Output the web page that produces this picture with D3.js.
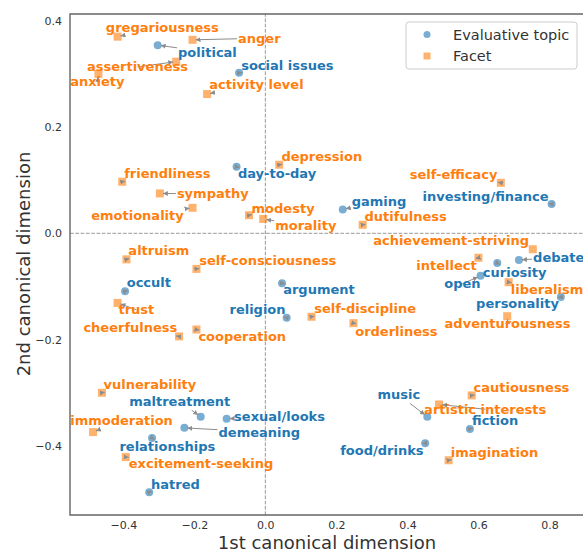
<!DOCTYPE html>
<html>
<head>
<meta charset="utf-8">
<script src="https://cdn.jsdelivr.net/npm/d3@7"></script>
<style>
  body { margin: 0; background: #fff; }
  text { font-family: "DejaVu Sans", sans-serif; }
</style>
</head>
<body>
<svg id="chart" width="583" height="554"></svg>
<script>
// Evaluative topics (blue circles)
const topicNames = ["political", "social issues", "day-to-day", "gaming", "investing/finance", "debate",
  "curiosity", "open", "personality", "argument", "religion", "occult", "maltreatment", "sexual/looks",
  "demeaning", "relationships", "hatred", "music", "fiction", "food/drinks"];
const topicX = [-0.303, -0.074, -0.081, 0.218, 0.806, 0.714, 0.653, 0.606, 0.832, 0.047, 0.060, -0.395,
  -0.182, -0.109, -0.228, -0.319, -0.327, 0.456, 0.576, 0.450];
const topicY = [0.354, 0.302, 0.125, 0.045, 0.055, -0.050, -0.056, -0.080, -0.120, -0.094, -0.159, -0.109,
  -0.345, -0.349, -0.366, -0.385, -0.487, -0.345, -0.368, -0.395];
// where the labels ended up (data units)
const topicLabelX = [-0.163, 0.062, 0.033, 0.320, 0.620, 0.826, 0.702, 0.555, 0.710, 0.151, -0.022, -0.328,
  -0.241, 0.040, -0.017, -0.276, -0.253, 0.376, 0.647, 0.328];
const topicLabelY = [0.341, 0.315, 0.112, 0.059, 0.070, -0.046, -0.073, -0.095, -0.133, -0.105, -0.144, -0.093,
  -0.317, -0.344, -0.374, -0.402, -0.472, -0.304, -0.353, -0.408];

// Facets (orange squares)
const facetNames = ["gregariousness", "anger", "assertiveness", "anxiety", "activity level", "depression",
  "friendliness", "sympathy", "emotionality", "modesty", "morality", "dutifulness", "self-efficacy",
  "achievement-striving", "intellect", "liberalism", "adventurousness", "altruism", "self-consciousness",
  "trust", "cheerfulness", "cooperation", "self-discipline", "orderliness", "vulnerability", "immoderation",
  "excitement-seeking", "cautiousness", "artistic interests", "imagination"];
const facetX = [-0.416, -0.205, -0.251, -0.470, -0.164, 0.039, -0.403, -0.297, -0.205, -0.046, -0.006, 0.274,
  0.663, 0.753, 0.600, 0.685, 0.681, -0.391, -0.194, -0.416, -0.243, -0.194, 0.130, 0.248, -0.460, -0.485,
  -0.393, 0.581, 0.489, 0.516];
const facetY = [0.370, 0.364, 0.323, 0.300, 0.262, 0.129, 0.097, 0.075, 0.048, 0.034, 0.027, 0.016,
  0.095, -0.030, -0.046, -0.092, -0.156, -0.049, -0.067, -0.131, -0.194, -0.181, -0.157, -0.169, -0.300,
  -0.374, -0.421, -0.305, -0.322, -0.427];
const facetLabelX = [-0.290, -0.017, -0.360, -0.473, -0.025, 0.159, -0.276, -0.148, -0.360, 0.050, 0.114, 0.395,
  0.530, 0.523, 0.510, 0.793, 0.682, -0.300, 0.007, -0.363, -0.380, -0.065, 0.281, 0.369, -0.325, -0.405,
  -0.181, 0.721, 0.619, 0.645];
const facetLabelY = [0.388, 0.367, 0.313, 0.285, 0.280, 0.144, 0.113, 0.074, 0.034, 0.046, 0.014, 0.031,
  0.110, -0.014, -0.060, -0.105, -0.169, -0.033, -0.052, -0.144, -0.178, -0.195, -0.142, -0.184, -0.284,
  -0.353, -0.434, -0.291, -0.331, -0.412];

const xTicks = [-0.4, -0.2, 0.0, 0.2, 0.4, 0.6, 0.8];
const yTicks = [-0.4, -0.2, 0.0, 0.2, 0.4];
const legendLabels = ["Evaluative topic", "Facet"];

const blue = "#1f77b4", orange = "#ff7f0e";

const svg = d3.select("#chart");
const x = d3.scaleLinear().domain([-0.55, 0.9]).range([70, 585]);
const y = d3.scaleLinear().domain([-0.530, 0.4126]).range([515, 14]);

// arrowhead
svg.append("defs").append("marker")
  .attr("id", "head")
  .attr("viewBox", "0 0 10 10")
  .attr("refX", 10).attr("refY", 5)
  .attr("markerWidth", 5).attr("markerHeight", 5)
  .attr("markerUnits", "userSpaceOnUse")
  .attr("orient", "auto")
  .append("path").attr("d", "M0,0L10,5L0,10Z").attr("fill", "#8c8c8c");

// reference lines
svg.append("line")
  .attr("x1", x(0)).attr("x2", x(0)).attr("y1", y.range()[0]).attr("y2", y.range()[1])
  .attr("stroke", "#999").attr("stroke-dasharray", "3.7,1.6");
svg.append("line")
  .attr("x1", x.range()[0]).attr("x2", x.range()[1]).attr("y1", y(0)).attr("y2", y(0))
  .attr("stroke", "#999").attr("stroke-dasharray", "3.7,1.6");

// axes
const fmt = d3.format(".1f");
const xAxis = svg.append("g").attr("transform", "translate(0,515)")
  .call(d3.axisBottom(x).tickValues(xTicks).tickFormat(fmt).tickSize(0).tickPadding(6));
const yAxis = svg.append("g").attr("transform", "translate(70,0)")
  .call(d3.axisLeft(y).tickValues(yTicks).tickFormat(fmt).tickSize(0).tickPadding(8));
[xAxis, yAxis].forEach(g => {
  g.select(".domain").remove();
  g.selectAll("text").attr("font-size", 11).attr("fill", "#333")
    .style("font-family", "DejaVu Sans, sans-serif");
});

// spines
const spine = svg.append("g").attr("stroke", "#666").attr("stroke-width", 1.4).attr("fill", "none");
spine.append("path").attr("d", `M${x.range()[1]},14H70V515H${x.range()[1]}`);

svg.append("text").attr("x", 327).attr("y", 549).attr("text-anchor", "middle")
  .attr("font-size", 18).attr("fill", "#333").text("1st canonical dimension");
svg.append("text").attr("transform", "translate(30,264) rotate(-90)").attr("text-anchor", "middle")
  .attr("font-size", 18).attr("fill", "#333").text("2nd canonical dimension");

// markers
const topics = topicNames.map((n, i) => ({ name: n, x: topicX[i], y: topicY[i], lx: topicLabelX[i], ly: topicLabelY[i], color: blue }));
const facets = facetNames.map((n, i) => ({ name: n, x: facetX[i], y: facetY[i], lx: facetLabelX[i], ly: facetLabelY[i], color: orange }));

svg.append("g").selectAll("circle").data(topics).enter().append("circle")
  .attr("cx", d => x(d.x)).attr("cy", d => y(d.y)).attr("r", 4)
  .attr("fill", blue).attr("fill-opacity", 0.6);
svg.append("g").selectAll("rect").data(facets).enter().append("rect")
  .attr("x", d => x(d.x) - 4).attr("y", d => y(d.y) - 4).attr("width", 8).attr("height", 8)
  .attr("fill", orange).attr("fill-opacity", 0.6);

// labels + arrows
const all = topics.concat(facets);
const arrowG = svg.append("g");
const labelG = svg.append("g");
all.forEach(d => {
  const t = labelG.append("text")
    .attr("x", x(d.lx)).attr("y", y(d.ly))
    .attr("text-anchor", "middle").attr("dominant-baseline", "central")
    .attr("font-size", 13).attr("font-weight", "bold").attr("fill", d.color)
    .text(d.name);
  const bb = t.node().getBBox();
  const cx = bb.x + bb.width / 2, cy = bb.y + bb.height / 2;
  const hw = bb.width / 2 + 1, hh = bb.height / 2 + 1;
  const px = x(d.x), py = y(d.y);
  const dx = px - cx, dy = py - cy;
  const len = Math.hypot(dx, dy);
  if (len < 1) return;
  let sx = cx, sy = cy;
  const inside = Math.abs(dx) <= hw && Math.abs(dy) <= hh;
  if (!inside) {
    const s = Math.min(dx !== 0 ? hw / Math.abs(dx) : Infinity, dy !== 0 ? hh / Math.abs(dy) : Infinity);
    sx = cx + dx * s; sy = cy + dy * s;
  }
  const ex = px - dx / len * 3, ey = py - dy / len * 3;
  if (Math.hypot(ex - sx, ey - sy) < 1) return;
  arrowG.append("line")
    .attr("x1", sx).attr("y1", sy).attr("x2", ex).attr("y2", ey)
    .attr("stroke", "#8c8c8c").attr("stroke-width", 1)
    .attr("marker-end", "url(#head)");
});

// legend
const lg = svg.append("g");
lg.append("rect").attr("x", 406).attr("y", 22).attr("width", 171).attr("height", 47).attr("rx", 3)
  .attr("fill", "#fff").attr("fill-opacity", 0.8).attr("stroke", "#ccc");
lg.append("circle").attr("cx", 427).attr("cy", 34.5).attr("r", 3.5).attr("fill", blue).attr("fill-opacity", 0.6);
lg.append("rect").attr("x", 423.5).attr("y", 52.5).attr("width", 7).attr("height", 7).attr("fill", orange).attr("fill-opacity", 0.6);
legendLabels.forEach((l, i) => {
  lg.append("text").attr("x", 453).attr("y", 34.5 + i * 21.5).attr("dominant-baseline", "central")
    .attr("font-size", 14.5).attr("fill", "#333").text(l);
});
</script>
</body>
</html>
